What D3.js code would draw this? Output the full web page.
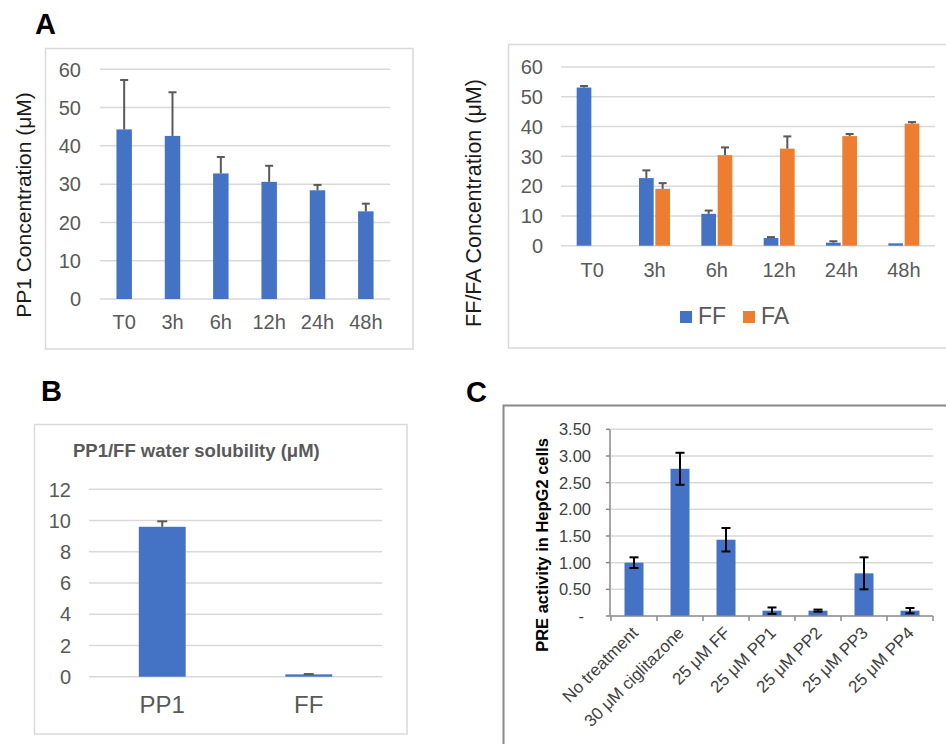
<!DOCTYPE html>
<html><head><meta charset="utf-8">
<script src="https://cdn.jsdelivr.net/npm/d3@7"></script>
<style>
html,body{margin:0;padding:0;background:#fff;}
svg{display:block;font-family:"Liberation Sans",Arial,sans-serif;}
</style></head>
<body><svg id="c" width="946" height="744"></svg>
<script>
// ---------- data ----------
const timeCats = ["T0","3h","6h","12h","24h","48h"];
const pp1Mean = [44.3, 42.6, 32.8, 30.6, 28.4, 22.9];
const pp1Err  = [12.9, 11.4, 4.3, 4.2, 1.4, 2.0];
const ffMean  = [53.1, 22.7, 10.7, 2.6, 1.0, 0.8];
const ffErr   = [0.5, 2.6, 1.1, 0.3, 0.5, 0];
const faMean  = [0, 19.1, 30.4, 32.6, 36.8, 41.0];
const faErr   = [0, 1.9, 2.6, 4.1, 0.7, 0.5];
const seriesNames = ["FF","FA"];
const concTicks = [0,10,20,30,40,50,60];

const solCats = ["PP1","FF"];
const solMean = [9.6, 0.15];
const solErr  = [0.35, 0.02];
const solTicks = [0,2,4,6,8,10,12];

const preCats = ["No treatment","30 μM ciglitazone","25 μM FF","25 μM PP1","25 μM PP2","25 μM PP3","25 μM PP4"];
const preMean = [1.00, 2.76, 1.43, 0.10, 0.10, 0.80, 0.10];
const preErr  = [0.10, 0.30, 0.22, 0.06, 0.02, 0.30, 0.05];
const preTicks = [0,0.5,1,1.5,2,2.5,3,3.5];

// ---------- style ----------
const BLUE="#4472C4", ORANGE="#ED7D31", GRID="#D9D9D9", TXT="#595959";
const svg = d3.select("#c");
svg.append("rect").attr("width",946).attr("height",744).attr("fill","#fff");

function panelLetter(t,x,y){
  svg.append("text").attr("x",x).attr("y",y).text(t)
    .attr("font-weight","bold").attr("font-size",29).attr("fill","#000");
}
function frame(x,y,w,h,col,sw){
  svg.append("rect").attr("x",x).attr("y",y).attr("width",w).attr("height",h)
    .attr("fill","none").attr("stroke",col).attr("stroke-width",sw);
}
function grid(g,y,ticks,x0,x1){
  g.selectAll(null).data(ticks).join("line")
    .attr("x1",x0).attr("x2",x1).attr("y1",d=>y(d)).attr("y2",d=>y(d))
    .attr("stroke",GRID).attr("stroke-width",1.5);
}
function yLabels(g,y,ticks,x,size,fmt,col){
  g.selectAll(null).data(ticks).join("text")
    .attr("x",x).attr("y",d=>y(d)).attr("dy","0.36em").attr("text-anchor","end")
    .attr("font-size",size).attr("fill",col||TXT).text(fmt||(d=>d));
}
function errUp(g,cx,yv,ytop,half,col,sw){
  g.append("line").attr("x1",cx).attr("x2",cx).attr("y1",yv).attr("y2",ytop).attr("stroke",col).attr("stroke-width",sw);
  g.append("line").attr("x1",cx-half).attr("x2",cx+half).attr("y1",ytop).attr("y2",ytop).attr("stroke",col).attr("stroke-width",sw);
}

panelLetter("A",35,34);
panelLetter("B",41,401);
panelLetter("C",466,402);

// ---------- Panel A left ----------
{
  frame(45.5,48.5,367.5,300.5,GRID,1.5);
  const g = svg.append("g");
  const x = d3.scaleBand().domain(timeCats).range([100,390]).paddingInner(0.68).paddingOuter(0.34);
  const y = d3.scaleLinear().domain([0,60]).range([299,69.3]);
  grid(g,y,concTicks,100,390);
  yLabels(g,y,concTicks,81,20);
  g.selectAll(null).data(timeCats).join("rect")
    .attr("x",d=>x(d)).attr("width",x.bandwidth())
    .attr("y",(d,i)=>y(pp1Mean[i])).attr("height",(d,i)=>y(0)-y(pp1Mean[i]))
    .attr("fill",BLUE);
  timeCats.forEach((c,i)=>errUp(g,x(c)+x.bandwidth()/2,y(pp1Mean[i]),y(pp1Mean[i]+pp1Err[i]),4,"#595959",2));
  g.selectAll(null).data(timeCats).join("text")
    .attr("x",d=>x(d)+x.bandwidth()/2).attr("y",329).attr("text-anchor","middle")
    .attr("font-size",20).attr("fill",TXT).text(d=>d);
  g.append("text").attr("transform","translate(31,205) rotate(-90)").attr("text-anchor","middle")
    .attr("font-size",21).attr("fill","#1a1a1a").text("PP1 Concentration (μM)");
}

// ---------- Panel A right ----------
{
  frame(508.5,44.5,450,303.5,GRID,1.5);
  const g = svg.append("g");
  const x0 = d3.scaleBand().domain(timeCats).range([561,935]).paddingInner(0.503).paddingOuter(0.2515);
  const x1 = d3.scaleBand().domain(seriesNames).range([0,x0.bandwidth()]).paddingInner(0.1);
  const y = d3.scaleLinear().domain([0,60]).range([245.7,67]);
  grid(g,y,concTicks,561,935);
  yLabels(g,y,concTicks,543,20);
  const sets = [[ffMean,ffErr,BLUE],[faMean,faErr,ORANGE]];
  sets.forEach(([m,e,col],si)=>{
    const s = seriesNames[si];
    g.selectAll(null).data(timeCats.filter((c,i)=>m[i]>0)).join("rect")
      .attr("x",d=>x0(d)+x1(s)).attr("width",x1.bandwidth())
      .attr("y",d=>y(m[timeCats.indexOf(d)])).attr("height",d=>y(0)-y(m[timeCats.indexOf(d)]))
      .attr("fill",col);
    timeCats.forEach((c,i)=>{ if(e[i]>0) errUp(g,x0(c)+x1(s)+x1.bandwidth()/2,y(m[i]),y(m[i]+e[i]),4,"#595959",2); });
  });
  g.selectAll(null).data(timeCats).join("text")
    .attr("x",d=>x0(d)+x0.bandwidth()/2).attr("y",277).attr("text-anchor","middle")
    .attr("font-size",20).attr("fill",TXT).text(d=>d);
  g.append("text").attr("transform","translate(480.5,203) rotate(-90)").attr("text-anchor","middle")
    .attr("font-size",21.5).attr("fill","#1a1a1a").text("FF/FA Concentration (μM)");
  // legend
  const leg = [["FF",BLUE,680],["FA",ORANGE,743]];
  leg.forEach(([t,col,lx])=>{
    g.append("rect").attr("x",lx).attr("y",311).attr("width",12).attr("height",12).attr("fill",col);
    g.append("text").attr("x",lx+18).attr("y",323.5).attr("font-size",23).attr("fill",TXT).text(t);
  });
}

// ---------- Panel B ----------
{
  frame(34.5,424.5,372.5,309.5,GRID,1.5);
  const g = svg.append("g");
  g.append("text").attr("x",73).attr("y",457).attr("font-size",18.5).attr("font-weight","bold")
    .attr("fill",TXT).text("PP1/FF water solubility (μM)");
  const x = d3.scaleBand().domain(solCats).range([89,382]).paddingInner(0.68).paddingOuter(0.34);
  const y = d3.scaleLinear().domain([0,12]).range([676.7,489.3]);
  grid(g,y,solTicks,89,382);
  yLabels(g,y,solTicks,71,20);
  g.selectAll(null).data(solCats).join("rect")
    .attr("x",d=>x(d)).attr("width",x.bandwidth())
    .attr("y",(d,i)=>y(solMean[i])).attr("height",(d,i)=>y(0)-y(solMean[i]))
    .attr("fill",BLUE);
  solCats.forEach((c,i)=>errUp(g,x(c)+x.bandwidth()/2,y(solMean[i]),y(solMean[i]+solErr[i]),5,"#595959",2));
  g.selectAll(null).data(solCats).join("text")
    .attr("x",d=>x(d)+x.bandwidth()/2).attr("y",713).attr("text-anchor","middle")
    .attr("font-size",24).attr("fill",TXT).text(d=>d);
}

// ---------- Panel C ----------
{
  frame(503.5,405.5,450,350,"#8a8a8a",2);
  const g = svg.append("g");
  const x = d3.scaleBand().domain(preCats).range([611,933]).paddingInner(0.587).paddingOuter(0.2935);
  const y = d3.scaleLinear().domain([0,3.5]).range([616,429.3]);
  grid(g,y,preTicks.filter(d=>d>0),611,933);
  const AX="#8a8a8a";
  // y axis line + ticks
  g.append("line").attr("x1",610).attr("x2",610).attr("y1",y(3.5)).attr("y2",y(0)).attr("stroke",AX).attr("stroke-width",1.5);
  g.selectAll(null).data(preTicks).join("line")
    .attr("x1",606).attr("x2",610).attr("y1",d=>y(d)).attr("y2",d=>y(d)).attr("stroke",AX).attr("stroke-width",1.5);
  yLabels(g,y,preTicks.filter(d=>d>0),591,16.5,d=>d3.format(".2f")(d),"#404040");
  g.append("text").attr("x",584).attr("y",y(0)).attr("dy","0.36em").attr("text-anchor","end")
    .attr("font-size",16.5).attr("fill","#404040").text("-");
  g.selectAll(null).data(preCats).join("rect")
    .attr("x",d=>x(d)).attr("width",x.bandwidth())
    .attr("y",(d,i)=>y(preMean[i])).attr("height",(d,i)=>y(0)-y(preMean[i]))
    .attr("fill",BLUE);
  // x axis line + ticks at band boundaries
  g.append("line").attr("x1",610).attr("x2",933).attr("y1",y(0)).attr("y2",y(0)).attr("stroke",AX).attr("stroke-width",1.5);
  const bounds = preCats.map(d=>x(d)-x.step()*x.paddingInner()/2).concat([933]);
  g.selectAll(null).data(bounds).join("line")
    .attr("x1",d=>d).attr("x2",d=>d).attr("y1",y(0)).attr("y2",y(0)+5).attr("stroke",AX).attr("stroke-width",1.5);
  // error bars (both directions)
  preCats.forEach((c,i)=>{
    const cx = x(c)+x.bandwidth()/2, t=y(preMean[i]+preErr[i]), b=y(preMean[i]-preErr[i]);
    g.append("line").attr("x1",cx).attr("x2",cx).attr("y1",t).attr("y2",b).attr("stroke","#000").attr("stroke-width",2);
    [t,b].forEach(yy=>g.append("line").attr("x1",cx-4.5).attr("x2",cx+4.5).attr("y1",yy).attr("y2",yy).attr("stroke","#000").attr("stroke-width",2));
  });
  g.selectAll(null).data(preCats).join("text")
    .attr("transform",d=>`translate(${x(d)+x.bandwidth()/2+5},${y(0)+18}) rotate(-45)`)
    .attr("text-anchor","end").attr("font-size",17).attr("fill","#404040").text(d=>d);
  g.append("text").attr("transform","translate(548,545) rotate(-90)").attr("text-anchor","middle")
    .attr("font-size",16.5).attr("font-weight","bold").attr("fill","#000").text("PRE activity in HepG2 cells");
}
</script></body></html>
